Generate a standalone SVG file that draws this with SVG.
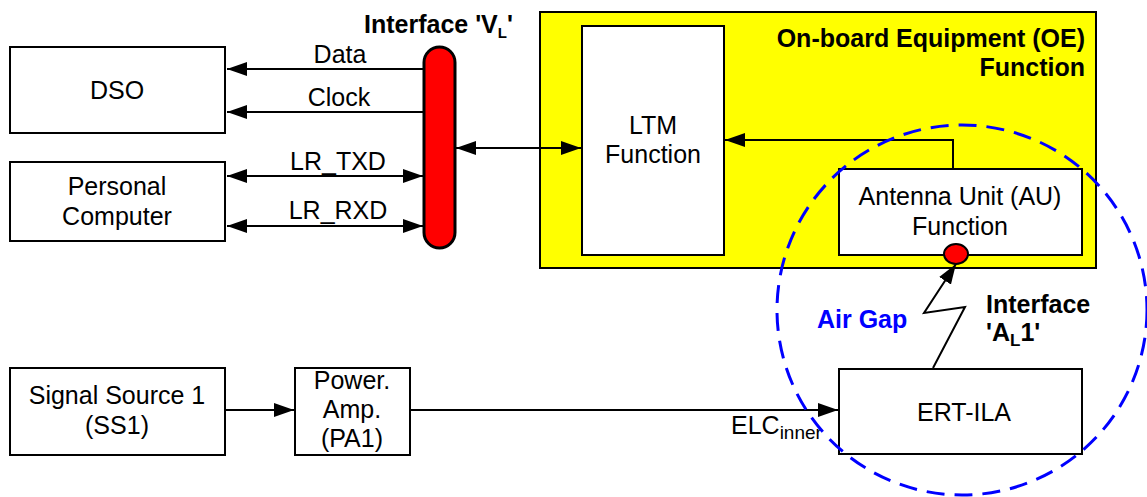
<svg xmlns="http://www.w3.org/2000/svg" width="1147" height="497" viewBox="0 0 1147 497">
<style>
.box{fill:#fff;stroke:#000;stroke-width:2}
.t{font-family:"Liberation Sans",Arial,sans-serif;font-size:25px;fill:#000}
.b{font-family:"Liberation Sans",Arial,sans-serif;font-size:25px;font-weight:bold;fill:#000}
.ln{stroke:#000;stroke-width:2;fill:none}
</style>
<defs>
<marker id="ah" markerUnits="userSpaceOnUse" markerWidth="22" markerHeight="16" refX="20" refY="7" orient="auto-start-reverse" viewBox="0 0 22 14">
<path d="M0,0 L20,7 L0,14 Z" fill="#000"/>
</marker>
</defs>
<rect width="1147" height="497" fill="#fff"/>
<g id="oe">
<rect x="540" y="12" width="556" height="256" fill="#ffff00" stroke="#000" stroke-width="2"/>
<text class="b" x="1085" y="47" text-anchor="end">On-board Equipment (OE)</text>
<text class="b" x="1085" y="76" text-anchor="end">Function</text>
</g>
<g id="dso">
<rect class="box" x="10" y="47" width="215" height="86"/>
<text class="t" x="117" y="99" text-anchor="middle">DSO</text>
</g>
<g id="pc">
<rect class="box" x="10" y="162" width="215" height="79"/>
<text class="t" x="117" y="195" text-anchor="middle">Personal</text>
<text class="t" x="117" y="225" text-anchor="middle">Computer</text>
</g>
<g id="ltm">
<rect class="box" x="582" y="26" width="142" height="229"/>
<text class="t" x="653" y="134" text-anchor="middle">LTM</text>
<text class="t" x="653" y="163" text-anchor="middle">Function</text>
</g>
<g id="au">
<rect class="box" x="839" y="169" width="243" height="86"/>
<text class="t" x="960" y="205" text-anchor="middle">Antenna Unit (AU)</text>
<text class="t" x="960" y="235" text-anchor="middle">Function</text>
</g>
<g id="ert">
<rect class="box" x="839" y="369" width="243" height="85"/>
<text class="t" x="964" y="421" text-anchor="middle">ERT-ILA</text>
</g>
<g id="ss1">
<rect class="box" x="10" y="368" width="215" height="87"/>
<text class="t" x="117" y="404" text-anchor="middle">Signal Source 1</text>
<text class="t" x="117" y="434" text-anchor="middle">(SS1)</text>
</g>
<g id="pa1">
<rect class="box" x="295" y="368" width="115" height="87"/>
<text class="t" x="352" y="389" text-anchor="middle">Power.</text>
<text class="t" x="352" y="418" text-anchor="middle">Amp.</text>
<text class="t" x="352" y="447" text-anchor="middle">(PA1)</text>
</g>
<g id="connectors">
<line class="ln" x1="424" y1="69" x2="227" y2="69" marker-end="url(#ah)"/>
<line class="ln" x1="424" y1="112" x2="227" y2="112" marker-end="url(#ah)"/>
<line class="ln" x1="227" y1="176" x2="423" y2="176" marker-start="url(#ah)" marker-end="url(#ah)"/>
<line class="ln" x1="227" y1="226" x2="423" y2="226" marker-start="url(#ah)" marker-end="url(#ah)"/>
<line class="ln" x1="456" y1="148" x2="581" y2="148" marker-start="url(#ah)" marker-end="url(#ah)"/>
<polyline class="ln" points="953,169 953,140 725,140" marker-end="url(#ah)"/>
<line class="ln" x1="225" y1="410" x2="294" y2="410" marker-end="url(#ah)"/>
<line class="ln" x1="410" y1="410" x2="838" y2="410" marker-end="url(#ah)"/>
<polyline class="ln" points="933,368 965,307 924,313 956,264" marker-end="url(#ah)"/>
<text class="t" x="340" y="63" text-anchor="middle">Data</text>
<text class="t" x="339" y="106" text-anchor="middle">Clock</text>
<text class="t" x="338" y="170" text-anchor="middle">LR_TXD</text>
<text class="t" x="338" y="219" text-anchor="middle">LR_RXD</text>
<text class="t" x="731" y="434">ELC<tspan font-size="19" dy="5">inner</tspan></text>
</g>
<g id="interface-vl">
<rect x="424" y="47" width="31" height="201" rx="15.5" fill="#ff0000" stroke="#000" stroke-width="3"/>
<text class="b" x="364" y="33" font-size="22">Interface 'V<tspan font-size="15" dy="5">L</tspan><tspan dy="-5">'</tspan></text>
</g>
<g id="interface-al1">
<ellipse cx="956" cy="254" rx="12" ry="10" fill="#ff0000" stroke="#000" stroke-width="2"/>
<text class="b" x="986" y="313">Interface</text>
<text class="b" x="986" y="341">'A<tspan font-size="17" dy="5">L</tspan><tspan dy="-5">1'</tspan></text>
</g>
<g id="airgap">
<circle cx="962" cy="310" r="185" fill="none" stroke="#0000ff" stroke-width="3" stroke-dasharray="18,10"/>
<text class="b" x="817" y="328" style="fill:#0000ff">Air Gap</text>
</g>
</svg>
